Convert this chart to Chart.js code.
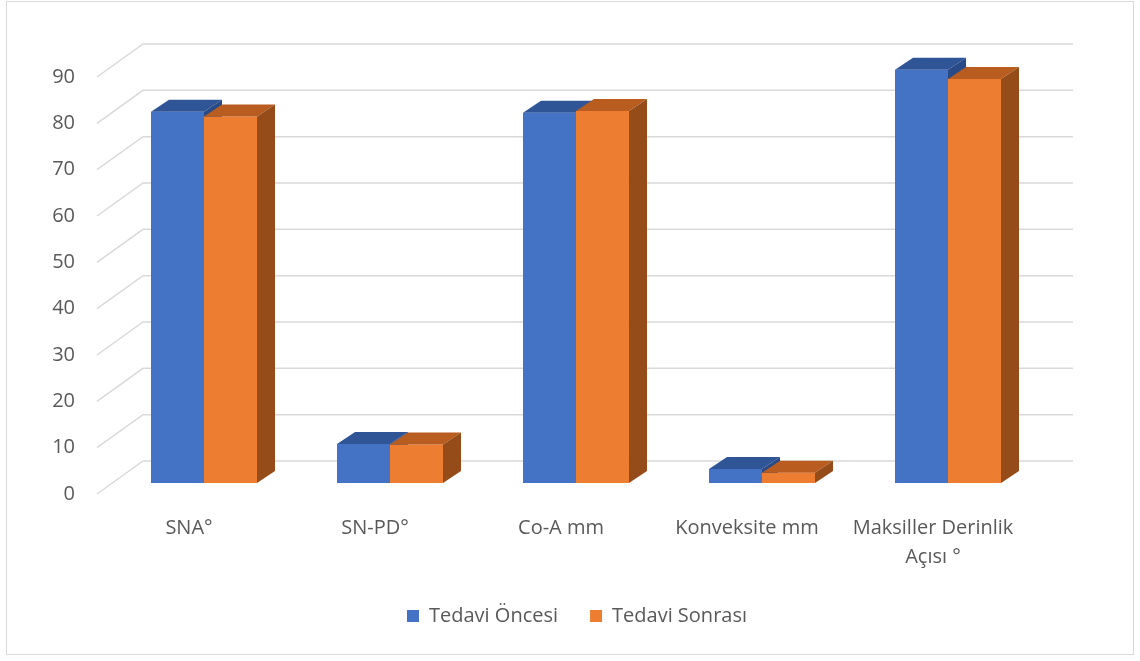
<!DOCTYPE html>
<html>
<head>
<meta charset="utf-8">
<script src="https://cdn.jsdelivr.net/npm/chart.js@4/dist/chart.umd.min.js"></script>
<style>
  html, body { margin: 0; padding: 0; background: #ffffff; }
  #wrap { position: relative; width: 1140px; height: 661px; }
  canvas { display: block; }
</style>
</head>
<body>
<div id="wrap"><canvas id="c" width="1140" height="661"></canvas></div>
<script>
// ---- data ----
const categories = ["SNA°", "SN-PD°", "Co-A mm", "Konveksite mm", ["Maksiller Derinlik", "Açısı °"]];
const seriesNames = ["Tedavi Öncesi", "Tedavi Sonrası"];
const tedaviOncesi = [80.1, 8.4, 79.9, 3.0, 89.2];
const tedaviSonrasi = [79.1, 8.3, 80.3, 2.2, 87.2];
const yTickMin = 0;
const yTickMax = 90;
const yTickStep = 10;

// ---- style ----
const FONT = "'Open Sans', 'Liberation Sans', sans-serif";
const TEXT = '#595959';
const GRID = '#D9D9D9';
const shades = [
  { front: '#4472C4', top: '#2F5597', side: '#284A86' },
  { front: '#ED7D31', top: '#B85C1F', side: '#954C19' }
];
const BAR_DEPTH = { dx: 18, dy: -12 };
const WALL = { dx: 32, dy: -22 };
const FRONT = { dx: -14, dy: 11 };

const excel3d = {
  id: 'excel3d',
  beforeDatasetsDraw(chart) {
    const ctx = chart.ctx;
    const y = chart.scales.y;
    const area = chart.chartArea;
    // back wall grid + side diagonals
    ctx.save();
    ctx.strokeStyle = GRID;
    ctx.lineWidth = 1.5;
    y.ticks.forEach(t => {
      const py = y.getPixelForValue(t.value);
      ctx.beginPath();
      ctx.moveTo(area.left + FRONT.dx, py + FRONT.dy);
      ctx.lineTo(area.left + WALL.dx, py + WALL.dy);
      ctx.lineTo(area.right + WALL.dx, py + WALL.dy);
      ctx.stroke();
    });
    ctx.restore();
    // bars, painter's order
    const n = chart.data.labels.length;
    const metas = chart.data.datasets.map((d, i) => chart.getDatasetMeta(i));
    for (let j = 0; j < n; j++) {
      metas.forEach((meta, i) => {
        const el = meta.data[j];
        if (!el) return;
        el.draw(ctx);
        const p = el.getProps(['x', 'y', 'base', 'width'], true);
        const l = p.x - p.width / 2, r = p.x + p.width / 2;
        const top = Math.min(p.y, p.base), base = Math.max(p.y, p.base);
        const dx = BAR_DEPTH.dx, dy = BAR_DEPTH.dy;
        ctx.save();
        ctx.fillStyle = shades[i].top;
        ctx.beginPath();
        ctx.moveTo(l, top); ctx.lineTo(r, top); ctx.lineTo(r + dx, top + dy); ctx.lineTo(l + dx, top + dy);
        ctx.closePath(); ctx.fill();
        ctx.fillStyle = shades[i].side;
        ctx.beginPath();
        ctx.moveTo(r, top); ctx.lineTo(r + dx, top + dy); ctx.lineTo(r + dx, base + dy); ctx.lineTo(r, base);
        ctx.closePath(); ctx.fill();
        ctx.restore();
      });
    }
    return false;
  },
  afterDraw(chart) {
    const ctx = chart.ctx;
    ctx.save();
    ctx.strokeStyle = GRID;
    ctx.lineWidth = 1;
    ctx.strokeRect(6.5, 1.5, 1127, 653);
    ctx.restore();
  }
};

new Chart(document.getElementById('c'), {
  type: 'bar',
  data: {
    labels: categories,
    datasets: [
      { label: seriesNames[0], data: tedaviOncesi, backgroundColor: shades[0].front, borderWidth: 0 },
      { label: seriesNames[1], data: tedaviSonrasi, backgroundColor: shades[1].front, borderWidth: 0 }
    ]
  },
  options: {
    responsive: false,
    animation: false,
    events: [],
    layout: { padding: { left: 14, right: 0, top: 66, bottom: 25 } },
    datasets: { bar: { categoryPercentage: 0.57, barPercentage: 1.0 } },
    scales: {
      x: {
        grid: { display: false, drawTicks: false },
        border: { display: false },
        ticks: {
          color: TEXT, font: { family: FONT, size: 20, lineHeight: 1.45 },
          padding: 31, labelOffset: -15, maxRotation: 0, minRotation: 0, autoSkip: false
        },
        afterFit(s) { s.height = 91; }
      },
      y: {
        min: yTickMin, max: yTickMax,
        grid: { display: false, drawTicks: false },
        border: { display: false },
        ticks: {
          stepSize: yTickStep, color: TEXT, font: { family: FONT, size: 20 },
          padding: 36, labelOffset: 11
        },
        afterFit(s) { s.width = 97; }
      },
      yR: {
        type: 'linear', position: 'right', display: true,
        grid: { display: false, drawTicks: false },
        border: { display: false },
        ticks: { display: false },
        afterFit(s) { s.width = 99; }
      }
    },
    plugins: {
      tooltip: { enabled: false },
      legend: {
        position: 'bottom',
        labels: {
          boxWidth: 12, boxHeight: 12, padding: 32,
          color: TEXT, font: { family: FONT, size: 20 }
        }
      }
    }
  },
  plugins: [excel3d]
});
</script>
</body>
</html>
